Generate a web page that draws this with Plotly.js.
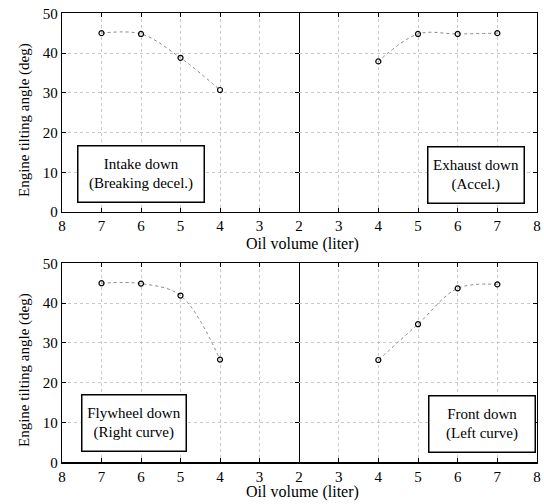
<!DOCTYPE html>
<html><head><meta charset="utf-8">
<script src="https://cdn.plot.ly/plotly-3.0.1.min.js"></script>
<style>html,body{margin:0;padding:0;background:#fff}#chart{width:544px;height:504px}</style>
</head><body><div id="chart"></div>
<script>
const oilVolume = [7, 6, 5, 4];
const intakeDown = [45, 44.8, 38.8, 30.7];
const exhaustDown = [45, 44.8, 44.8, 37.9];
const flywheelDown = [45, 44.9, 41.9, 25.8];
const frontDown = [44.7, 43.7, 34.7, 25.7];
const yTicks = [0, 10, 20, 30, 40, 50];
const leftXTicks = [8, 7, 6, 5, 4, 3];
const rightXTicks = [2, 3, 4, 5, 6, 7, 8];
const panelLabels = [
  ["Intake down", "(Breaking decel.)"],
  ["Exhaust down", "(Accel.)"],
  ["Flywheel down", "(Right curve)"],
  ["Front down", "(Left curve)"]
];
const xTitle = "Oil volume (liter)";
const yTitle = "Engine tilting angle (deg)";

const FONT = "'Liberation Serif', 'DejaVu Serif', serif";
function trace(y, xa, ya) {
  return {x: oilVolume, y: y, xaxis: xa, yaxis: ya, type: 'scatter', mode: 'lines+markers',
    line: {shape: 'spline', smoothing: 1, color: '#888', width: 1, dash: 'dot'},
    marker: {symbol: 'circle-open', size: 5, color: '#000', line: {width: 1.2, color: '#000'}},
    showlegend: false, hoverinfo: 'skip'};
}
const data = [
  trace(intakeDown, 'x', 'y'),
  trace(exhaustDown, 'x2', 'y2'),
  trace(flywheelDown, 'x3', 'y3'),
  trace(frontDown, 'x4', 'y4')
];
const L = [62/544, 299/544], R = [299/544, 537/544];
const TOP = [(504-212)/504, (504-13.3)/504], BOT = [(504-462.3)/504, (504-263.3)/504];
function xax(dom, anchor, reversed) {
  return {domain: dom, anchor: anchor, range: reversed ? [8, 2] : [2, 8],
    tickvals: reversed ? leftXTicks : rightXTicks, ticks: 'inside', ticklen: 4, tickcolor: '#000',
    showline: true, linecolor: '#000', linewidth: 1.2, mirror: 'ticks',
    showgrid: true, gridcolor: '#c8c8c8', griddash: 'dot', gridwidth: 1, zeroline: false,
    tickfont: {family: FONT, size: 15, color: '#000'}, fixedrange: true};
}
function yax(dom, anchor, left) {
  return {domain: dom, anchor: anchor, range: [0, 50], tickvals: yTicks, ticks: 'inside', ticklen: 4,
    side: left ? 'left' : 'right',
    tickcolor: '#000', showticklabels: left, showline: true, linecolor: '#000', linewidth: 1.2, mirror: left ? 'ticks' : false,
    showgrid: true, gridcolor: '#c8c8c8', griddash: 'dot', gridwidth: 1, zeroline: false,
    tickfont: {family: FONT, size: 15, color: '#000'}, fixedrange: true};
}
const boxes = [
  {x: 141/544, y: (504-173.5)/504, w: 123, h: 53},
  {x: 476/544, y: (504-174.5)/504, w: 93, h: 53},
  {x: 134/544, y: (504-422.5)/504, w: 101, h: 53},
  {x: 481.5/544, y: (504-424)/504, w: 103, h: 53}
];
const annotations = boxes.map((b, i) => ({
  xref: 'paper', yref: 'paper', x: b.x, y: b.y, xanchor: 'center', yanchor: 'middle',
  text: panelLabels[i].join('<br>'), showarrow: false, width: b.w, height: b.h, align: 'center',
  bordercolor: '#000', borderwidth: 1.5, borderpad: 1, bgcolor: '#fff',
  font: {family: FONT, size: 15, color: '#000'}
}));
[(504-244)/504, (504-492)/504].forEach(yy => annotations.push({
  xref: 'paper', yref: 'paper', x: 302/544, y: yy, xanchor: 'center', yanchor: 'middle',
  text: xTitle, showarrow: false, font: {family: FONT, size: 16, color: '#000'}
}));
[(504-120)/504, (504-370)/504].forEach(yy => annotations.push({
  xref: 'paper', yref: 'paper', x: 24/544, y: yy, xanchor: 'center', yanchor: 'middle', textangle: -90,
  text: yTitle, showarrow: false, font: {family: FONT, size: 15, color: '#000'}
}));
const layout = {
  width: 544, height: 504, margin: {l: 0, r: 0, t: 0, b: 0},
  font: {family: FONT},
  paper_bgcolor: '#fff', plot_bgcolor: '#fff', showlegend: false,
  xaxis: xax(L, 'y', true), xaxis2: xax(R, 'y2', false),
  xaxis3: xax(L, 'y3', true), xaxis4: xax(R, 'y4', false),
  yaxis: yax(TOP, 'x', true), yaxis2: yax(TOP, 'x2', false),
  yaxis3: yax(BOT, 'x3', true), yaxis4: yax(BOT, 'x4', false),
  annotations: annotations
};
Plotly.newPlot('chart', data, layout, {displayModeBar: false, staticPlot: true});
</script></body></html>
